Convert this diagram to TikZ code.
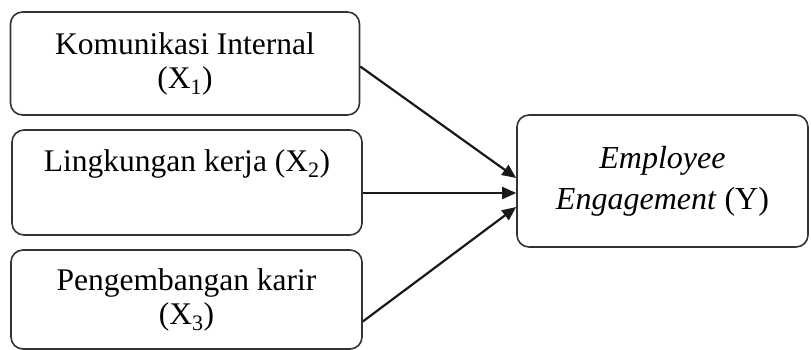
\documentclass[tikz,border=0pt]{standalone}
\usepackage{fontspec}
\setmainfont{Liberation Serif}
\usetikzlibrary{arrows.meta}
\begin{document}
\begin{tikzpicture}[x=1pt,y=-1pt,
  box/.style={draw=black!80, line width=1.6pt, rounded corners=12pt, align=center,
    font=\fontsize{31.5}{34}\selectfont, inner sep=0pt},
  conn/.style={line width=2.2pt, black!90, -{Triangle[length=14pt,width=12pt]}}]
\useasboundingbox (0,0) rectangle (811,350);
\node[box, minimum width=349pt, minimum height=103pt] (b1) at (185,63.5)
  {Komunikasi Internal\\(X\textsubscript{1})};
\node[box, minimum width=350pt, minimum height=105pt] (b2) at (187,182.5)
  {Lingkungan kerja (X\textsubscript{2})\\\strut};
\node[box, minimum width=351pt, minimum height=99pt] (b3) at (186.5,299.5)
  {Pengembangan karir\\(X\textsubscript{3})};
\node[box, minimum width=291pt, minimum height=132pt, font=\fontsize{32}{41}\selectfont] (y) at (662.5,181)
  {\textit{Employee}\\\textit{Engagement} (Y)};
\draw[conn] ([yshift=-3pt]b1.east) -- ([yshift=3pt]y.west);
\draw[conn] ([yshift=-10.5pt]b2.east) -- ([yshift=-12pt]y.west);
\draw[conn] ([yshift=-22pt]b3.east) -- ([yshift=-26pt]y.west);
\end{tikzpicture}
\end{document}
